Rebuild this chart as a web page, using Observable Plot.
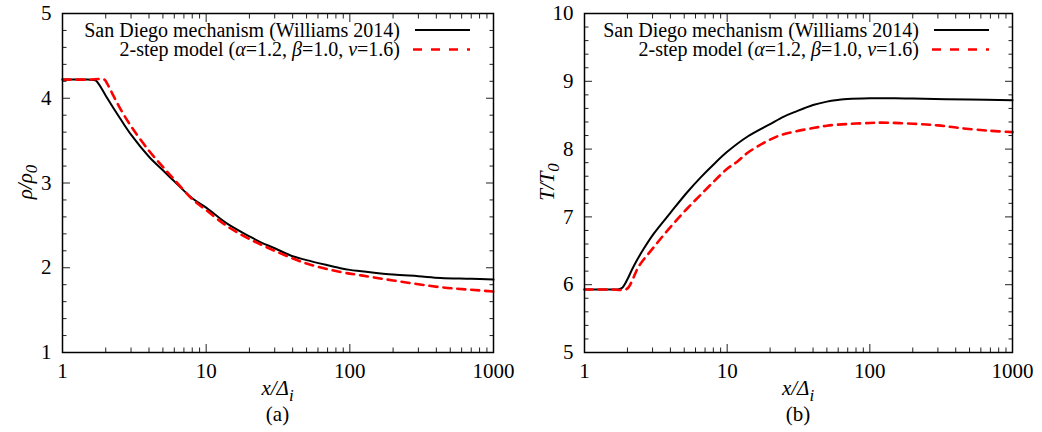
<!DOCTYPE html>
<html><head><meta charset="utf-8">
<script src="https://cdn.jsdelivr.net/npm/d3@7"></script>
<script src="https://cdn.jsdelivr.net/npm/@observablehq/plot@0.6"></script>
<style>
body{margin:0;background:#fff;}
#wrap{display:flex;width:1042px;height:432px;background:#fff;}
svg text, svg tspan{font-family:"Liberation Serif" !important;}
</style></head><body><div id="wrap"></div>
<script>
// Panel (a): density ratio
const rhoSdX = [1, 1.5, 1.7, 1.8, 2, 2.5, 3, 4, 5, 6, 8, 10, 14, 20, 24, 30, 40, 50, 70, 86, 100, 120, 200, 300, 430, 700, 1000];
const rhoSdY = [4.22, 4.22, 4.21, 4.16, 4.03, 3.77, 3.57, 3.31, 3.15, 3.02, 2.82, 2.71, 2.52, 2.37, 2.30, 2.23, 2.135, 2.09, 2.03, 1.995, 1.975, 1.96, 1.92, 1.90, 1.88, 1.87, 1.86];
const rho2sX = [1, 1.5, 1.95, 2.05, 2.2, 2.5, 3, 4, 5, 6, 8, 10, 14, 20, 30, 50, 86, 120, 200, 430, 700, 1000];
const rho2sY = [4.22, 4.22, 4.22, 4.17, 4.07, 3.89, 3.67, 3.38, 3.19, 3.04, 2.81, 2.68, 2.49, 2.34, 2.20, 2.05, 1.95, 1.91, 1.85, 1.77, 1.74, 1.72];
// Panel (b): temperature ratio
const tSdX = [1, 1.5, 1.75, 1.85, 2, 2.15, 2.33, 2.6, 3.05, 4, 5.23, 6.5, 8, 10, 14, 20, 25, 30, 40, 50, 60, 70, 100, 150, 200, 500, 1000];
const tSdY = [5.93, 5.93, 5.935, 5.96, 6.08, 6.22, 6.36, 6.53, 6.75, 7.06, 7.36, 7.58, 7.77, 7.96, 8.19, 8.37, 8.48, 8.55, 8.65, 8.70, 8.725, 8.74, 8.75, 8.75, 8.745, 8.73, 8.72];
const t2sX = [1, 1.5, 1.95, 2.05, 2.2, 2.4, 3.05, 4, 5.23, 6.84, 8.5, 10, 11.7, 14, 20, 24, 30, 40, 50, 70, 100, 120, 200, 300, 430, 700, 1000];
const t2sY = [5.93, 5.93, 5.93, 5.97, 6.10, 6.27, 6.55, 6.85, 7.12, 7.37, 7.57, 7.71, 7.81, 7.95, 8.14, 8.21, 8.26, 8.31, 8.345, 8.37, 8.385, 8.39, 8.375, 8.35, 8.31, 8.27, 8.25];

// Ticks
const xMajor = [1, 10, 100, 1000];
const xMinor = [2,3,4,5,6,7,8,9,20,30,40,50,60,70,80,90,200,300,400,500,600,700,800,900];
const rhoMajor = [1, 2, 3, 4, 5];
const tMajor = [5, 6, 7, 8, 9, 10];
const legendLabels = ["San Diego mechanism (Williams 2014)", "2-step model"];

const FONT = "Liberation Serif";
const zip = (xs, ys) => xs.map((x, i) => ({x, y: ys[i]}));

function minorOf(major) {
  const out = [];
  for (let i = 0; i < major.length - 1; i++)
    for (let k = 1; k < 5; k++) out.push(+(major[i] + k * (major[i+1]-major[i]) / 5).toFixed(3));
  return out;
}

function panel({w, ml, mr, yDomain, yMajor, sd, two, ylab, tag}) {
  const yMinor = minorOf(yMajor);
  const tickStyle = {stroke: "#222", strokeWidth: 1, label: null, fill: "none"};
  const textStyle = {tickSize: 0, tickPadding: 11, label: null, fontSize: 21, fontFamily: FONT, tickFormat: d => String(d), fill: "black"};
  const plot = Plot.plot({
    width: w, height: 432,
    marginLeft: ml, marginRight: mr, marginTop: 13, marginBottom: 80,
    style: {fontFamily: FONT, fontSize: "21px", background: "white", color: "black", overflow: "visible"},
    x: {type: "log", domain: [1, 1000], label: null},
    y: {domain: yDomain, label: null},
    marks: [
      Plot.line(sd, {x: "x", y: "y", stroke: "black", strokeWidth: 2, curve: "catmull-rom"}),
      Plot.line(two, {x: "x", y: "y", stroke: "#ff0000", strokeWidth: 2.6, strokeDasharray: "8,6", curve: "catmull-rom"}),
      Plot.axisX(xMajor, {anchor: "bottom", tickSize: -8, ...tickStyle}),
      Plot.axisX(xMinor, {anchor: "bottom", tickSize: -4.5, ...tickStyle}),
      Plot.axisX(xMajor, {anchor: "top", tickSize: -8, ...tickStyle}),
      Plot.axisX(xMinor, {anchor: "top", tickSize: -4.5, ...tickStyle}),
      Plot.axisY(yMajor, {anchor: "left", tickSize: -8, ...tickStyle}),
      Plot.axisY(yMinor, {anchor: "left", tickSize: -4.5, ...tickStyle}),
      Plot.axisY(yMajor, {anchor: "right", tickSize: -8, ...tickStyle}),
      Plot.axisY(yMinor, {anchor: "right", tickSize: -4.5, ...tickStyle}),
      Plot.axisX(xMajor, {anchor: "bottom", ...textStyle}),
      Plot.axisY(yMajor, {anchor: "left", ...textStyle}),
      Plot.frame({stroke: "black", strokeWidth: 1.5})
    ]
  });
  const svg = d3.select(plot.tagName.toLowerCase() === "svg" ? plot : plot.querySelector("svg"));
  const right = w - mr, cx = (ml + right) / 2;
  const g = svg.append("g").attr("font-family", FONT).attr("font-size", 21).attr("fill", "black");
  // legend
  const lg = g.append("g").attr("font-size", 20);
  lg.append("text").attr("x", right - 93).attr("y", 36.5).attr("text-anchor", "end").text(legendLabels[0]);
  const t2 = lg.append("text").attr("x", right - 93).attr("y", 55.5).attr("text-anchor", "end");
  t2.append("tspan").text(legendLabels[1] + " (");
  t2.append("tspan").attr("font-style", "italic").text("α");
  t2.append("tspan").text("=1.2, ");
  t2.append("tspan").attr("font-style", "italic").text("β");
  t2.append("tspan").text("=1.0, ");
  t2.append("tspan").attr("font-style", "italic").text("ν");
  t2.append("tspan").text("=1.6)");
  g.append("line").attr("x1", right - 78).attr("x2", right - 23).attr("y1", 30).attr("y2", 30)
    .attr("stroke", "black").attr("stroke-width", 2);
  g.append("line").attr("x1", right - 80).attr("x2", right - 23).attr("y1", 49.5).attr("y2", 49.5)
    .attr("stroke", "#ff0000").attr("stroke-width", 2.6).attr("stroke-dasharray", "9,9");
  // x label
  const xl = g.append("text").attr("x", cx).attr("y", 395).attr("text-anchor", "middle");
  xl.append("tspan").attr("font-style", "italic").text("x");
  xl.append("tspan").attr("font-style", "italic").text("/Δ");
  xl.append("tspan").attr("font-style", "italic").attr("dy", 6).attr("font-size", 17).text("i");
  g.append("text").attr("x", cx).attr("y", 421).attr("text-anchor", "middle").text(tag);
  // y label
  const yl = g.append("text").attr("transform", `translate(${ml - 37},182) rotate(-90)`).attr("text-anchor", "middle").attr("dy", "0.35em");
  yl.append("tspan").attr("font-style", "italic").text(ylab[0] + "/" + ylab[1]);
  yl.append("tspan").attr("font-style", "italic").attr("dy", 5).attr("font-size", 17).text("0");
  return plot;
}

const wrap = document.getElementById("wrap");
wrap.append(panel({w: 520, ml: 62, mr: 27, yDomain: [1, 5], yMajor: rhoMajor,
  sd: zip(rhoSdX, rhoSdY), two: zip(rho2sX, rho2sY), ylab: ["ρ", "ρ"], tag: "(a)"}));
wrap.append(panel({w: 522, ml: 64, mr: 30, yDomain: [5, 10], yMajor: tMajor,
  sd: zip(tSdX, tSdY), two: zip(t2sX, t2sY), ylab: ["T", "T"], tag: "(b)"}));
</script>
</body></html>
